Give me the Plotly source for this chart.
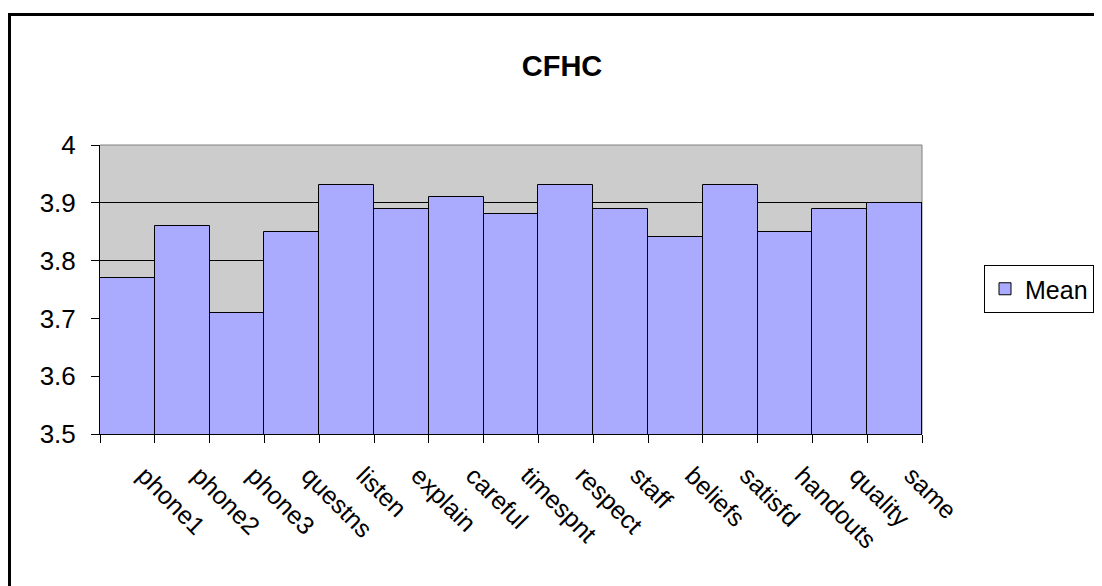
import plotly.graph_objects as go

categories = ["phone1", "phone2", "phone3", "questns", "listen", "explain", "careful",
              "timespnt", "respect", "staff", "beliefs", "satisfd", "handouts", "quality", "same"]
mean_values = [3.77, 3.86, 3.71, 3.85, 3.93, 3.89, 3.91, 3.88, 3.93, 3.89, 3.84, 3.93, 3.85, 3.89, 3.90]
y_ticks = [3.5, 3.6, 3.7, 3.8, 3.9, 4.0]
y_tick_text = ["3.5", "3.6", "3.7", "3.8", "3.9", "4"]

OFF = 8  # page body margin
W, H = 1102 - OFF, 586 - OFF
# plot area in page pixels: x 100..922, y 145..434
L, T = 100 - OFF, 145 - OFF
R = W - (922 - OFF)
B = H - (434 - OFF)
pw, ph = W - L - R, H - T - B

def px_x(x):
    return (x - OFF - L) / pw

def px_y(y):
    return 1 - (y - OFF - T) / ph

fig = go.Figure()
fig.add_trace(go.Bar(
    x=categories, y=mean_values, name="Mean",
    marker=dict(color="#AAAAFF", line=dict(color="#000000", width=1)),
    width=1.0,
))

fig.update_layout(
    width=W, height=H,
    margin=dict(l=L, r=R, t=T, b=B, autoexpand=False),
    paper_bgcolor="white",
    plot_bgcolor="#CCCCCC",
    bargap=0,
    font=dict(family="Arial, Liberation Sans, sans-serif", color="black"),
    title=dict(text="<b>CFHC</b>", font=dict(size=29, color="black"),
               xref="container", yref="container",
               x=(562 - OFF) / W, y=1 - (66 - OFF) / H,
               xanchor="center", yanchor="middle"),
    showlegend=True,
    legend=dict(x=px_x(1094), y=px_y(289), xanchor="right", yanchor="middle",
                bgcolor="white", bordercolor="black", borderwidth=1,
                font=dict(size=25), itemwidth=30),
    xaxis=dict(
        type="category", tickson="boundaries", ticks="outside", ticklen=8,
        tickcolor="black", tickwidth=1, tickangle=45,
        tickfont=dict(size=25), showline=True, linecolor="black", linewidth=1,
        showgrid=False, ticklabelstandoff=16, ticklabelshift=17,
    ),
    yaxis=dict(
        range=[3.5, 4.0], tickvals=y_ticks, ticktext=y_tick_text,
        ticks="outside", ticklen=8, tickcolor="black", tickwidth=1,
        tickfont=dict(size=26), showline=True, linecolor="black", linewidth=1,
        showgrid=True, gridcolor="#000000", gridwidth=1, zeroline=False,
        ticklabelstandoff=10,
    ),
    shapes=[
        dict(type="rect", xref="paper", yref="paper",
             x0=px_x(9.5), x1=1.6, y0=-1.0, y1=px_y(14.5),
             line=dict(color="black", width=3), layer="below"),
        dict(type="line", xref="paper", yref="paper", x0=0, x1=1, y0=1, y1=1,
             line=dict(color="#808080", width=1), layer="above"),
        dict(type="line", xref="paper", yref="paper", x0=1, x1=1, y0=0, y1=1,
             line=dict(color="#808080", width=1), layer="below"),
    ],
)

fig.write_html("out.html")
